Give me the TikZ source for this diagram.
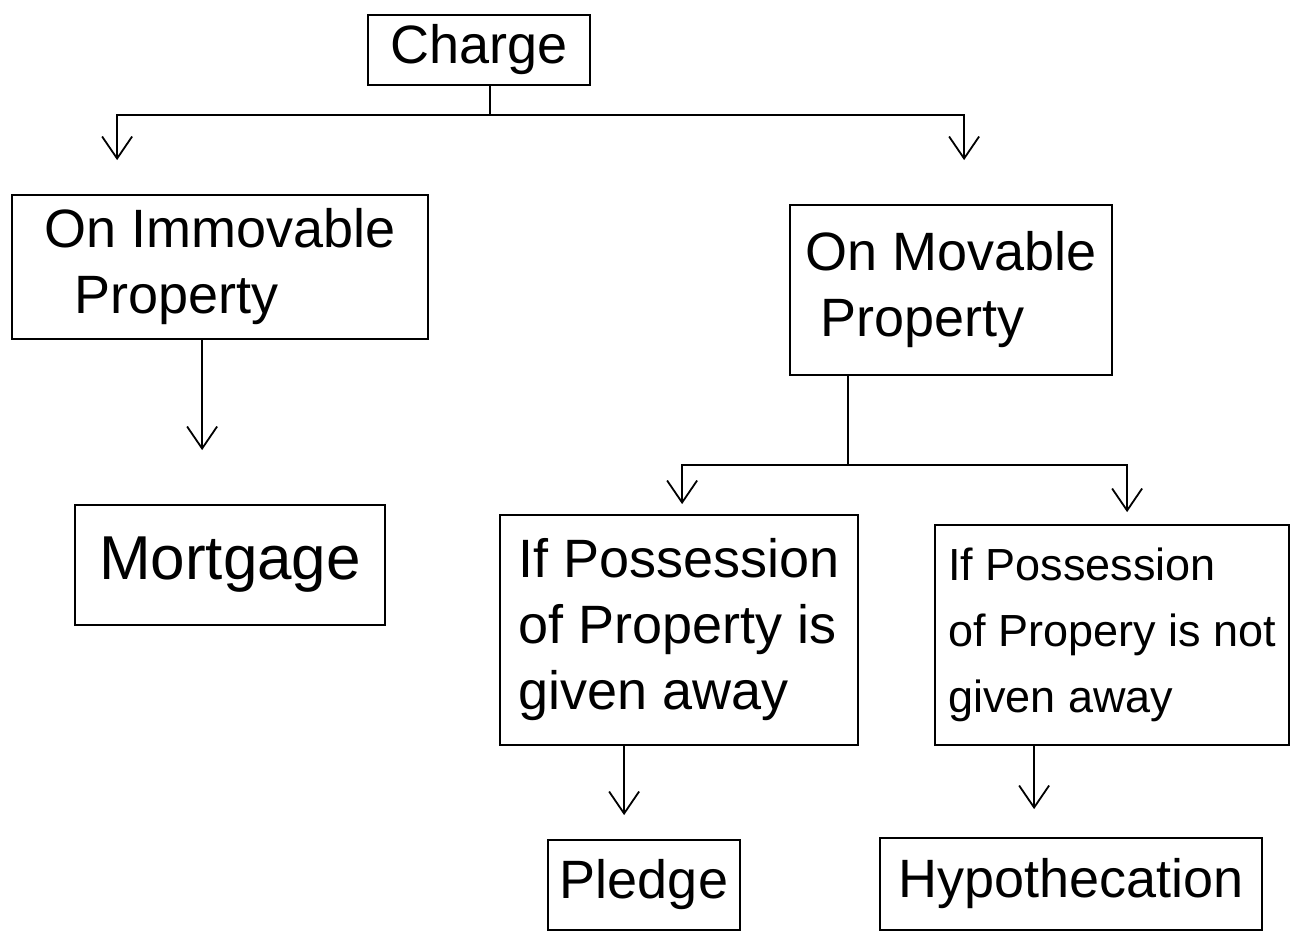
\documentclass[tikz,border=0pt]{standalone}
\usepackage{fontspec}
\setmainfont{Liberation Sans}
\usetikzlibrary{arrows.meta,calc}

\begin{document}
\begin{tikzpicture}[x=0.5pt,y=-0.5pt,
  box/.style={draw,line width=0.9pt,inner sep=5pt,align=left,font=\fontsize{27}{33}\selectfont},
  link/.style={line width=0.9pt},
  arr/.style={link,-{Straight Barb[length=11pt,width=15pt,line width=0.9pt]}}]
\useasboundingbox (0,0) rectangle (1302,934);

% boxes
\node[box,minimum width=111pt,minimum height=32pt] (charge) at (479,50) {Charge};
\node[box,minimum width=208pt,minimum height=72pt] (immov) at (220,267) {On Immovable\\ \ \ Property};
\node[box,minimum width=161pt,minimum height=85pt] (mov) at (951,290) {On Movable\\ \ Property};
\node[box,minimum width=155pt,minimum height=60pt,font=\fontsize{31}{36}\selectfont] (mort) at (230,565) {Mortgage};
\node[box,minimum width=179pt,minimum height=115pt] (given) at (679,630) {If Possession\\of Property is\\given away};
\node[box,minimum width=177pt,minimum height=110pt,font=\fontsize{22.5}{33}\selectfont] (notgiven) at (1112,635) {If Possession\\of Propery is not\\given away};
\node[box,minimum width=96pt,minimum height=45pt] (pledge) at (644,885) {Pledge};
\node[box,minimum width=191pt,minimum height=46pt] (hypo) at (1071,884) {Hypothecation};

% Charge splits into the two kinds of property
\coordinate (j1) at (490,115);
\draw[link] (charge.south -| j1) -- (j1);
\draw[arr,shorten >=17pt] (j1) -| ($(immov.north west)+(106,0)$);
\draw[arr,shorten >=22pt] (j1) -| ($(mov.north west)+(175,0)$);

% immovable property leads to mortgage
\draw[arr,shorten >=27pt] ($(immov.south west)+(191,0)$) -- ($(mort.north west)+(128,0)$);

% movable property splits by possession
\coordinate (j2) at (848,465);
\draw[link] (mov.south -| j2) -- (j2);
\draw[arr,shorten >=5pt] (j2) -| ($(given.north west)+(183,0)$);
\draw[arr,shorten >=6pt] (j2) -| ($(notgiven.north west)+(193,0)$);

% possession outcomes
\draw[arr,shorten >=12pt] ($(given.south west)+(125,0)$) -- ($(pledge.north west)+(77,0)$);
\draw[arr,shorten >=14pt] ($(notgiven.south west)+(100,0)$) -- ($(hypo.north west)+(155,0)$);
\end{tikzpicture}
\end{document}
